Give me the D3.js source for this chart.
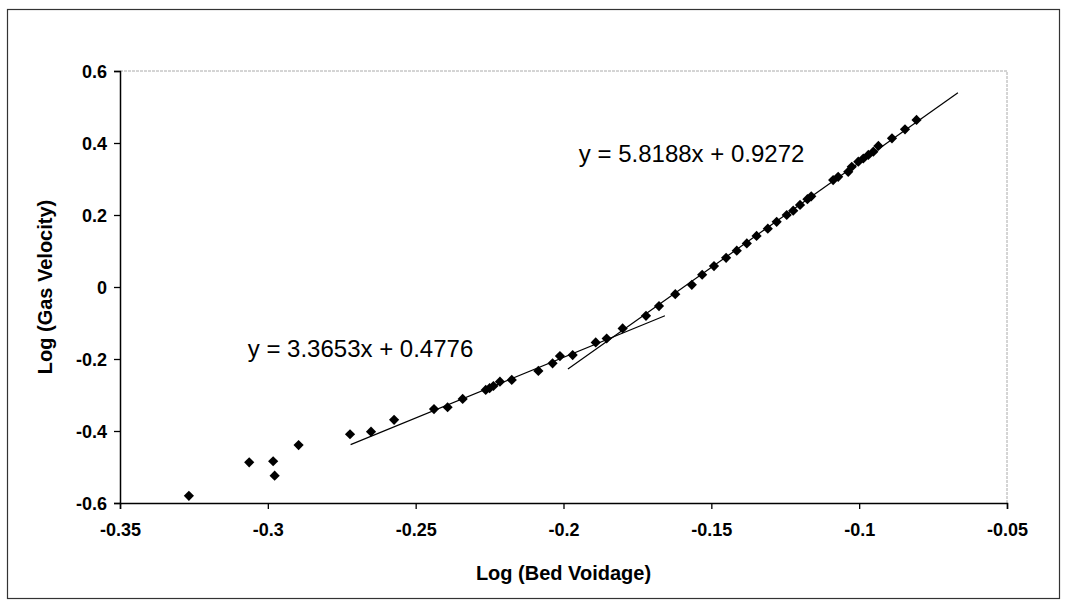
<!DOCTYPE html>
<html>
<head>
<meta charset="utf-8">
<script src="https://cdn.jsdelivr.net/npm/d3@7"></script>
<style>
  body { margin: 0; background: #fff; }
  svg { display: block; }
</style>
</head>
<body>
<script>
// measured points, log(bed voidage) vs log(gas velocity)
const logVoidage = [
  -0.3267, -0.3063, -0.2982, -0.2977, -0.2896, -0.2722, -0.2651, -0.2573,
  -0.2438, -0.2392, -0.2341, -0.2263, -0.2250, -0.2237, -0.2215, -0.2175,
  -0.2085, -0.2037, -0.2012, -0.1969, -0.1891, -0.1854, -0.1800, -0.1721,
  -0.1677, -0.1622, -0.1566, -0.1531, -0.1491, -0.1450, -0.1414, -0.1380,
  -0.1347, -0.1309, -0.1279, -0.1245, -0.1223, -0.1200, -0.1175, -0.1162,
  -0.1088, -0.1071, -0.1037, -0.1025, -0.1003, -0.0986, -0.0969, -0.0952,
  -0.0935, -0.0889, -0.0845, -0.0806
];
const logVelocity = [
  -0.580, -0.487, -0.484, -0.524, -0.439, -0.409, -0.402, -0.369,
  -0.339, -0.334, -0.311, -0.286, -0.281, -0.275, -0.263, -0.258,
  -0.233, -0.212, -0.192, -0.189, -0.154, -0.143, -0.115, -0.080,
  -0.053, -0.020, 0.006, 0.034, 0.058, 0.081, 0.101, 0.121,
  0.142, 0.162, 0.181, 0.200, 0.212, 0.228, 0.244, 0.252,
  0.297, 0.306, 0.320, 0.334, 0.348, 0.357, 0.367, 0.376,
  0.392, 0.413, 0.438, 0.464
];

const xTicks = [-0.35, -0.3, -0.25, -0.2, -0.15, -0.1, -0.05];
const yTicks = [-0.6, -0.4, -0.2, 0, 0.2, 0.4, 0.6];

// two linear trendlines: slope, intercept, x range
const trendSlopes = [3.3653, 5.8188];
const trendIntercepts = [0.4776, 0.9272];
const trendFrom = [-0.272, -0.1985];
const trendTo = [-0.1657, -0.0666];
const trendLabels = ["y = 3.3653x + 0.4776", "y = 5.8188x + 0.9272"];
const labelAnchorX = [-0.3068, -0.1948];
const labelAnchorY = [-0.1944, 0.3472];

const W = 1068, H = 607;
const plotL = 120, plotR = 1007, plotT = 71, plotB = 503;

const svg = d3.select("body").append("svg")
  .attr("width", W)
  .attr("height", H)
  .style("font-family", "Arial, 'Liberation Sans', sans-serif");

// outer chart frame
svg.append("rect")
  .attr("x", 7.5).attr("y", 9.5)
  .attr("width", 1052).attr("height", 589)
  .attr("fill", "none")
  .attr("stroke", "#333")
  .attr("stroke-width", 1.2);

const x = d3.scaleLinear().domain([-0.35, -0.05]).range([plotL, plotR]);
const y = d3.scaleLinear().domain([-0.6, 0.6]).range([plotB, plotT]);

// plot area border, top + right are faint
svg.append("path")
  .attr("d", `M${plotL},${plotT}H${plotR}V${plotB}`)
  .attr("fill", "none")
  .attr("stroke", "#aaa")
  .attr("stroke-width", 1)
  .attr("stroke-dasharray", "3,1");

// plain hyphen minus like the original
const fmt = d => String(+d.toFixed(2));

const xAxis = svg.append("g")
  .attr("transform", `translate(0,${plotB})`)
  .call(d3.axisBottom(x).tickValues(xTicks).tickSize(6).tickPadding(14).tickFormat(fmt));

const yAxis = svg.append("g")
  .attr("transform", `translate(${plotL},0)`)
  .call(d3.axisLeft(y).tickValues(yTicks).tickSize(6).tickPadding(7).tickFormat(fmt));

[xAxis, yAxis].forEach(g => {
  g.select(".domain").attr("stroke", "#000").attr("stroke-width", 1.5);
  g.selectAll(".tick line").attr("stroke", "#000").attr("stroke-width", 1.3);
  g.selectAll(".tick text")
    .attr("fill", "#000")
    .attr("font-size", "18px")
    .attr("font-weight", "bold")
    .attr("font-family", "Arial, 'Liberation Sans', sans-serif");
});
yAxis.selectAll(".tick text").attr("dy", "0.36em");

// trend lines
const trends = trendSlopes.map((m, i) => ({
  m: m, b: trendIntercepts[i], x0: trendFrom[i], x1: trendTo[i]
}));
svg.selectAll(".trend")
  .data(trends)
  .enter()
    .append("line")
      .attr("class", "trend")
      .attr("x1", d => x(d.x0))
      .attr("y1", d => y(d.m * d.x0 + d.b))
      .attr("x2", d => x(d.x1))
      .attr("y2", d => y(d.m * d.x1 + d.b))
      .attr("stroke", "#000")
      .attr("stroke-width", 1.2);

// diamond markers
const pts = logVoidage.map((v, i) => ({ x: v, y: logVelocity[i] }));
const diamond = d3.symbol().type(d3.symbolSquare).size(52);
svg.selectAll(".pt")
  .data(pts)
  .enter()
    .append("path")
      .attr("class", "pt")
      .attr("d", diamond)
      .attr("transform", d => `translate(${x(d.x)},${y(d.y)}) rotate(45)`)
      .attr("fill", "#000");

// equation labels
svg.selectAll(".eq")
  .data(trendLabels)
  .enter()
    .append("text")
      .attr("class", "eq")
      .attr("x", (d, i) => x(labelAnchorX[i]))
      .attr("y", (d, i) => y(labelAnchorY[i]))
      .attr("font-size", "24px")
      .attr("fill", "#000")
      .text(d => d);

// axis titles
svg.append("text")
  .attr("x", (plotL + plotR) / 2)
  .attr("y", 580)
  .attr("text-anchor", "middle")
  .attr("font-size", "20px")
  .attr("font-weight", "bold")
  .text("Log (Bed Voidage)");

svg.append("text")
  .attr("transform", `translate(52,${(plotT + plotB) / 2}) rotate(-90)`)
  .attr("text-anchor", "middle")
  .attr("font-size", "20px")
  .attr("font-weight", "bold")
  .text("Log (Gas Velocity)");
</script>
</body>
</html>
